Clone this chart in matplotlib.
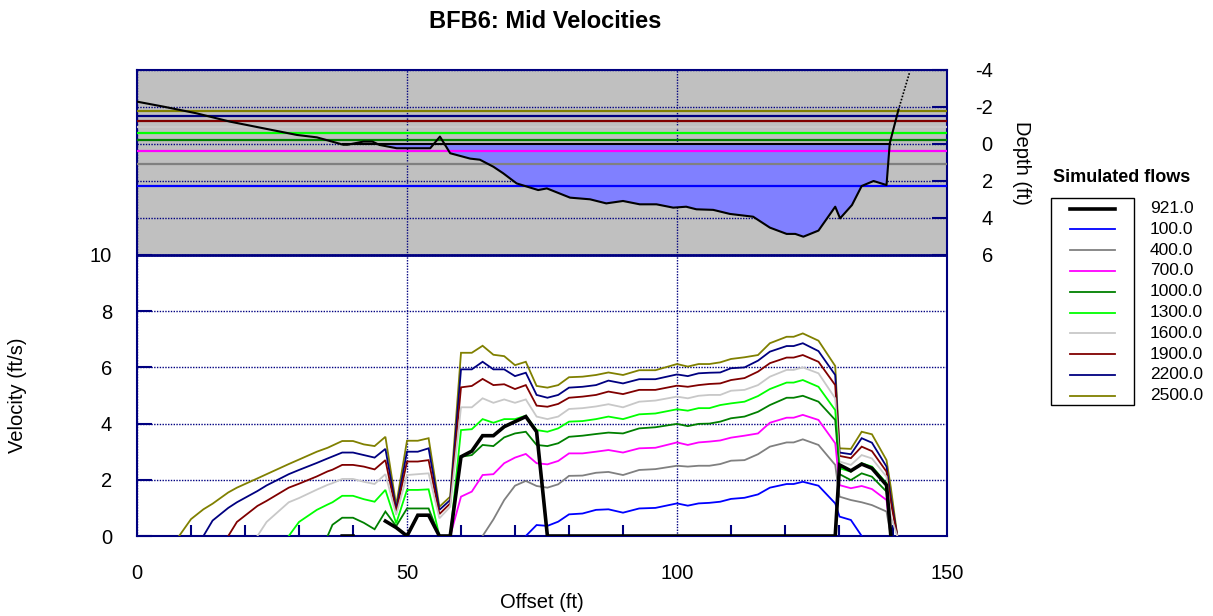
import numpy as np
import matplotlib
matplotlib.use('agg')

from matplotlib import pyplot as plt
from matplotlib.lines import Line2D
from matplotlib.patches import Rectangle

plt.rcParams['font.family'] = ['Liberation Sans', 'DejaVu Sans']
plt.rcParams['axes.unicode_minus'] = False

nan = np.nan

# --- cross-section (depth below the 921 cfs water surface, ft) ---
ground_x = [0, 4.9, 11.0, 17.2, 23.4, 29.6, 33.3, 38.2, 39.0, 41.9, 43.6, 44.9, 48.1, 54.3,
            56.1, 58.0, 61.7, 63.5, 66.0, 67.8, 70.3, 74.3, 75.9, 80.2, 83.9, 86.9, 90.0,
            93.1, 96.2, 99.3, 101.7, 103.6, 106.7, 109.8, 114.1, 117.2, 120.3, 121.9, 123.4,
            126.2, 129.3, 130.2, 132.4, 134.2, 136.4, 138.8, 139.4, 141.0]
ground_d = [-2.29, -2.02, -1.66, -1.21, -0.85, -0.49, -0.36, 0.04, 0.04, -0.13, -0.13, 0.05, 0.23, 0.23,
            -0.4, 0.5, 0.79, 0.85, 1.23, 1.58, 2.13, 2.49, 2.4, 2.9, 2.99, 3.21, 3.08,
            3.26, 3.26, 3.44, 3.39, 3.53, 3.56, 3.78, 3.93, 4.52, 4.86, 4.86, 5.01,
            4.68, 3.39, 4.02, 3.3, 2.27, 2.0, 2.22, -0.04, -1.84]
bank_x = [141.0, 143.1]
bank_d = [-1.84, -3.9]
wet_edges = [38.2, 139.4]

# --- flows, colours and water surfaces (depth, ft) ---
flows = ['921.0', '100.0', '400.0', '700.0', '1000.0', '1300.0', '1600.0', '1900.0', '2200.0', '2500.0']
colors = ['black', '#0000ff', '#808080', '#ff00ff', '#008000', '#00ff00', '#c8c8c8', '#800000', '#000080', '#808000']
wse = [0.0, 2.27, 1.08, 0.36, -0.2, -0.61, -0.93, -1.24, -1.5, -1.8]

# --- velocity stations (ft) ---
offset = [7.8, 10, 12.3, 14, 16.9, 18.5, 22.3, 24, 28.1, 30, 33.3, 35.3, 36.2, 38, 40, 42, 44, 46,
          48, 50, 52, 54, 56, 58,
          60, 62, 64, 66, 68, 70, 72, 74, 76, 78, 80, 82.5, 85, 87.3, 90, 93, 96, 100, 102, 104,
          106, 108, 110, 112.5, 115, 117.2, 120.3, 121.6, 123.3, 126.2, 129.3, 130.1, 132.2,
          134.2, 136.1, 138.8, 139.6, 140.8]

v_921 = [nan] * 13 + [0, 0, nan, nan, 0.53, 0.3, 0, 0.74, 0.74, 0, 0] + \
        [2.82, 3.02, 3.57, 3.57, 3.89, 4.07, 4.25, 3.71,
         0, 0, 0, 0, 0, 0, 0, 0, 0, 0, 0, 0, 0, 0, 0, 0, 0, 0, 0, 0, 0, 0, 0,
         2.53, 2.32, 2.56, 2.41, 1.81, 0, nan]
v_100 = [nan] * 24 + \
        [nan, nan, nan, nan, nan, nan, 0, 0.39, 0.36, 0.51, 0.77, 0.80, 0.93, 0.95, 0.83, 0.98,
         1.00, 1.16, 1.08, 1.16, 1.18, 1.22, 1.32, 1.36, 1.48, 1.72, 1.85, 1.85, 1.93, 1.79,
         1.16, 0.69, 0.57, 0, nan, nan, nan, nan]
v_400 = [nan] * 24 + \
        [nan, nan, 0, 0.59, 1.28, 1.79, 1.96, 1.78, 1.72, 1.84, 2.14, 2.15, 2.25, 2.28, 2.17,
         2.35, 2.38, 2.50, 2.47, 2.50, 2.50, 2.56, 2.68, 2.70, 2.91, 3.18, 3.33, 3.33, 3.44,
         3.24, 2.53, 1.40, 1.28, 1.20, 1.10, 0.87, 0, nan]
v_700 = [nan] * 23 + [0] + \
        [1.40, 1.58, 2.17, 2.20, 2.59, 2.79, 2.92, 2.59, 2.55, 2.67, 2.94, 2.94, 3.00, 3.06,
         2.97, 3.12, 3.14, 3.33, 3.24, 3.33, 3.36, 3.40, 3.50, 3.57, 3.65, 4.03, 4.21, 4.21,
         4.31, 4.13, 3.30, 1.81, 1.70, 1.78, 1.67, 1.28, 0, nan]
v_1000 = [nan] * 11 + [0, 0.4, 0.65, 0.65, 0.47, 0.24, 0.87, 0.35, 0.98, 0.98, 0.98, 0, 0] + \
         [2.82, 2.88, 3.24, 3.20, 3.51, 3.65, 3.71, 3.24, 3.20, 3.30, 3.53, 3.57, 3.63, 3.68,
          3.65, 3.83, 3.87, 3.99, 3.91, 3.99, 4.00, 4.07, 4.19, 4.25, 4.42, 4.66, 4.92, 4.92,
          4.99, 4.78, 4.13, 2.20, 1.99, 2.23, 2.11, 1.58, 0, nan]
v_1300 = [nan] * 8 + [0, 0.5, 0.93, 1.12, 1.2, 1.43, 1.43, 1.31, 1.22, 1.64, 0.45, 1.64, 1.64, 1.66, 0, 0] + \
         [3.77, 3.80, 4.16, 4.03, 4.16, 4.16, 4.28, 3.77, 3.71, 3.83, 4.07, 4.09, 4.16, 4.25,
          4.16, 4.33, 4.36, 4.51, 4.46, 4.55, 4.55, 4.66, 4.72, 4.78, 4.98, 5.23, 5.46, 5.46,
          5.55, 5.31, 4.48, 2.41, 2.29, 2.59, 2.47, 1.88, 0, nan]
v_1600 = [nan] * 6 + [0, 0.5, 1.2, 1.35, 1.65, 1.82, 1.88, 2.03, 2.03, 1.93, 1.85, 2.2, 0.75, 2.17, 2.2, 2.23, 0.63, 1.04] + \
         [4.58, 4.58, 4.90, 4.74, 4.86, 4.74, 4.86, 4.25, 4.16, 4.25, 4.52, 4.55, 4.61, 4.69,
          4.58, 4.78, 4.82, 4.96, 4.90, 4.99, 5.02, 5.02, 5.17, 5.20, 5.37, 5.67, 5.91, 5.91,
          6.00, 5.79, 4.90, 2.65, 2.53, 2.88, 2.76, 2.11, 0.7, 0]
v_1900 = [nan] * 4 + [0, 0.5, 1.07, 1.25, 1.72, 1.86, 2.12, 2.3, 2.36, 2.53, 2.53, 2.47, 2.37, 2.7, 0.85, 2.65, 2.65, 2.7, 0.78, 1.16] + \
         [5.29, 5.34, 5.59, 5.37, 5.40, 5.23, 5.37, 4.64, 4.60, 4.70, 4.92, 4.96, 5.02, 5.14,
          5.05, 5.20, 5.20, 5.35, 5.31, 5.37, 5.41, 5.43, 5.55, 5.62, 5.85, 6.15, 6.35, 6.35,
          6.44, 6.20, 5.37, 2.85, 2.77, 3.18, 3.02, 2.29, 1.2, 0]
v_2200 = [nan, nan, 0, 0.55, 1.0, 1.2, 1.6, 1.8, 2.2, 2.35, 2.6, 2.76, 2.83, 2.97, 2.97, 2.88, 2.79, 3.1, 0.95, 3.0, 3.0, 3.12, 0.93, 1.28] + \
         [5.93, 5.93, 6.20, 5.93, 5.93, 5.69, 5.81, 5.02, 4.92, 5.02, 5.28, 5.31, 5.37, 5.53,
          5.43, 5.58, 5.58, 5.75, 5.69, 5.79, 5.81, 5.82, 5.97, 6.00, 6.24, 6.56, 6.76, 6.76,
          6.86, 6.58, 5.73, 2.97, 2.91, 3.48, 3.32, 2.47, 1.37, 0]
v_2500 = [0, 0.6, 0.95, 1.15, 1.55, 1.72, 2.05, 2.2, 2.56, 2.72, 3.0, 3.14, 3.22, 3.38, 3.38, 3.26, 3.2, 3.53, 1.1, 3.39, 3.39, 3.48, 1.04, 1.4] + \
         [6.52, 6.52, 6.77, 6.45, 6.40, 6.08, 6.20, 5.34, 5.28, 5.37, 5.65, 5.67, 5.73, 5.82,
          5.73, 5.90, 5.90, 6.12, 6.03, 6.12, 6.12, 6.18, 6.30, 6.36, 6.44, 6.86, 7.09, 7.09,
          7.21, 6.95, 6.05, 3.12, 3.10, 3.71, 3.62, 2.70, 1.72, 0]

velocities = [v_921, v_100, v_400, v_700, v_1000, v_1300, v_1600, v_1900, v_2200, v_2500]

W, H = 1213, 616
navy = '#000080'


def fx(px):
    return px / W


def fy(py):
    return 1 - py / H


fig = plt.figure(figsize=(W / 100, H / 100), dpi=100)
ax = fig.add_axes([fx(137), fy(536), fx(947) - fx(137), fy(70) - fy(536)])
vtop = (536 - 70) / 28.1
ax.set_xlim(0, 150)
ax.set_ylim(0, vtop)

# grey section panel above velocity 10
ax.axhspan(10, vtop, color='#c0c0c0', zorder=0.5, lw=0)
ax.axhline(10, color=navy, lw=2, zorder=3)

grid_kw = dict(color=navy, linestyle=(0, (1, 1)), linewidth=1)
ax.set_xticks([0, 50, 100, 150])
ax.set_xticks(np.arange(0, 151, 10), minor=True)
ax.set_yticks([0, 2, 4, 6, 8, 10])
ax.grid(axis='x', which='major', **grid_kw)
ax.grid(axis='y', which='major', **grid_kw)
ax.tick_params(axis='x', which='major', length=0, pad=20, labelsize=14.5)
ax.tick_params(axis='x', which='minor', direction='in', length=8, width=1.5, color=navy)
ax.tick_params(axis='y', which='major', direction='in', length=11, width=1.5, color=navy,
               pad=18, labelsize=14.5)
for s in ax.spines.values():
    s.set_color(navy)
    s.set_linewidth(1.5)

# velocity lines, heaviest flow first so 921 ends on top
for i in range(len(flows) - 1, -1, -1):
    ax.plot(offset, velocities[i], color=colors[i], lw=2.6 if i == 0 else 1.3,
            zorder=5 if i == 0 else 4, solid_joinstyle='miter')

# depth axis for the cross-section
ax2 = ax.twinx()
ax2.set_ylim(6 + (536 - 255) / 18.5, -4)
ax2.set_yticks([-4, -2, 0, 2, 4, 6])
ax2.grid(axis='y', **grid_kw)
ax2.tick_params(axis='y', direction='in', length=11, width=1.5, color=navy, pad=33, labelsize=14.5)
plt.setp(ax2.get_yticklabels(), ha='right')
for s in ax2.spines.values():
    s.set_visible(False)

gx = np.array(ground_x)
gd = np.array(ground_d)
ax2.fill_between(gx, wse[0], gd, where=(gx >= 44) & (gd > wse[0]), interpolate=True,
                 color='#8080ff', lw=0, zorder=2)
for d, c in zip(wse[1:], colors[1:]):
    ax2.axhline(d, color=c, lw=1.6, zorder=3)
ax2.plot(wet_edges, [wse[0], wse[0]], color='black', lw=1.5, zorder=4)
ax2.plot(ground_x, ground_d, color='black', lw=1.5, zorder=5)
ax2.plot(bank_x, bank_d, color='black', lw=1.2, ls=(0, (1, 1)), zorder=5)

# text
fig.text(fx(545), fy(22), 'BFB6: Mid Velocities', ha='center', va='center',
         fontsize=17, fontweight='bold')
fig.text(fx(542), fy(603), 'Offset (ft)', ha='center', va='center', fontsize=14.5)
fig.text(fx(18), fy(395), 'Velocity (ft/s)', rotation=90, ha='center', va='center', fontsize=14.5)
fig.text(fx(1022), fy(163), 'Depth (ft)', rotation=-90, ha='center', va='center', fontsize=14.5)

# legend
fig.text(fx(1122), fy(178), 'Simulated flows', ha='center', va='center',
         fontsize=13, fontweight='bold')
fig.add_artist(Rectangle((fx(1051), fy(405)), fx(1134) - fx(1051), fy(198) - fy(405),
                         transform=fig.transFigure, fill=False, ec='black', lw=1))
for i, (lab, c) in enumerate(zip(flows, colors)):
    y = fy(208.5 + i * 20.8)
    fig.add_artist(Line2D([fx(1070), fx(1115)], [y, y], transform=fig.transFigure,
                          color=c, lw=2.6 if i == 0 else 1.3))
    fig.text(fx(1150), y, lab, ha='left', va='center', fontsize=12.5)

fig.savefig('out.png', dpi=100)
